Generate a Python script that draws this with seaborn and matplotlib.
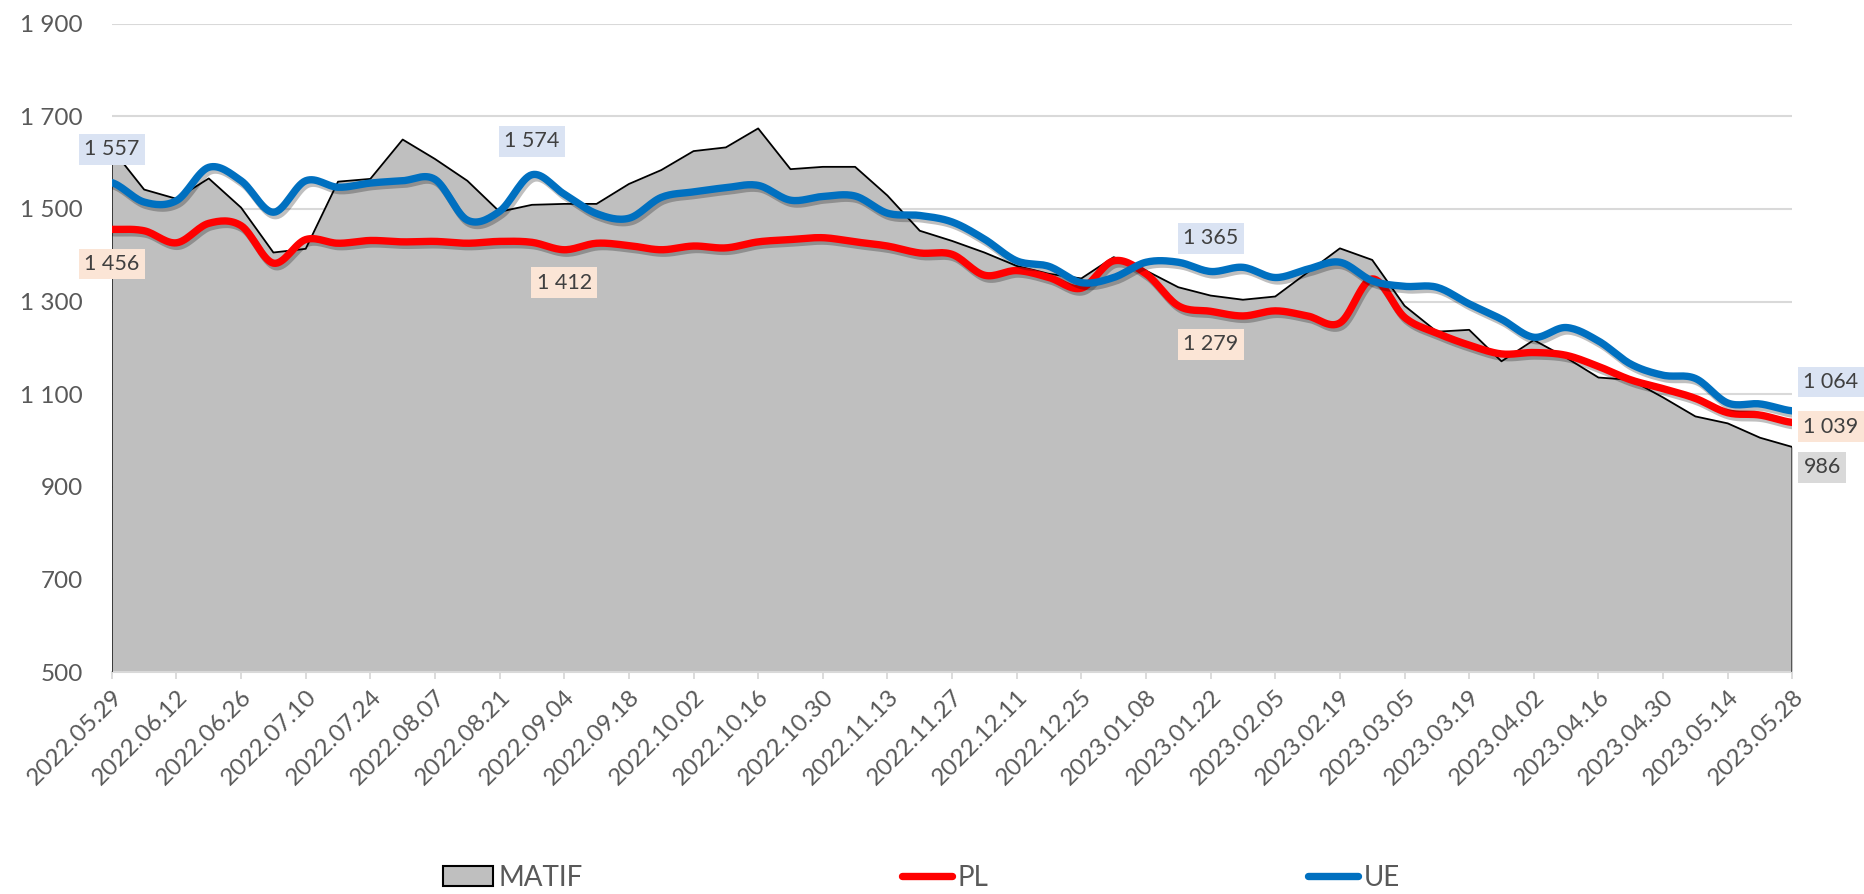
import numpy as np
import pandas as pd
import matplotlib
matplotlib.use("Agg")
import matplotlib.pyplot as plt
import matplotlib.patheffects as pe
from matplotlib.ticker import FuncFormatter
from matplotlib.patches import Patch
from matplotlib.lines import Line2D
import seaborn as sns

# weekly prices, 2022.05.29 - 2023.05.28
weeks = pd.date_range("2022-05-29", periods=53, freq="7D")
tick_labels = ["2022.05.29", "2022.06.12", "2022.06.26", "2022.07.10", "2022.07.24",
               "2022.08.07", "2022.08.21", "2022.09.04", "2022.09.18", "2022.10.02",
               "2022.10.16", "2022.10.30", "2022.11.13", "2022.11.27", "2022.12.11",
               "2022.12.25", "2023.01.08", "2023.01.22", "2023.02.05", "2023.02.19",
               "2023.03.05", "2023.03.19", "2023.04.02", "2023.04.16", "2023.04.30",
               "2023.05.14", "2023.05.28"]

matif = [1630, 1542, 1522, 1566, 1503, 1406, 1414, 1559, 1565, 1650,
         1608, 1561, 1494, 1509, 1511, 1511, 1554, 1584, 1625, 1633,
         1674, 1586, 1591, 1591, 1529, 1453, 1431, 1406, 1377, 1360,
         1350, 1396, 1367, 1331, 1313, 1304, 1311, 1363, 1415, 1390,
         1291, 1235, 1239, 1171, 1217, 1179, 1136, 1131, 1093, 1052,
         1037, 1006, 986]
pl = [1456, 1453, 1427, 1469, 1464, 1383, 1434, 1426, 1432, 1429,
      1430, 1426, 1430, 1428, 1412, 1426, 1421, 1412, 1420, 1416,
      1429, 1434, 1438, 1429, 1420, 1405, 1402, 1357, 1367, 1352,
      1329, 1388, 1360, 1291, 1279, 1269, 1280, 1269, 1254, 1349,
      1266, 1232, 1206, 1187, 1190, 1184, 1160, 1131, 1112, 1091,
      1060, 1055, 1039]
ue = [1557, 1515, 1518, 1590, 1561, 1493, 1561, 1547, 1556, 1561,
      1564, 1476, 1495, 1574, 1532, 1490, 1480, 1525, 1537, 1546,
      1551, 1519, 1527, 1528, 1491, 1486, 1472, 1435, 1388, 1376,
      1341, 1352, 1385, 1385, 1365, 1374, 1352, 1370, 1385, 1345,
      1333, 1331, 1295, 1262, 1223, 1244, 1215, 1165, 1141, 1134,
      1081, 1079, 1064]

RED = "#ff0000"
BLUE = "#0070c0"
TXT = "#595959"

sns.set_theme(style="white")
plt.rcParams["font.family"] = ["Lato", "DejaVu Sans"]


def smooth(y, n=16):
    # catmull-rom through the weekly points (excel "smoothed line")
    y = np.asarray(y, float)
    p = np.concatenate([[y[0]], y, [y[-1]]])
    t = np.linspace(0, 1, n, endpoint=False)
    xs, ys = [], []
    for i in range(len(y) - 1):
        p0, p1, p2, p3 = p[i], p[i + 1], p[i + 2], p[i + 3]
        ys.append(0.5 * (2 * p1 + (p2 - p0) * t
                         + (2 * p0 - 5 * p1 + 4 * p2 - p3) * t ** 2
                         + (-p0 + 3 * p1 - 3 * p2 + p3) * t ** 3))
        xs.append(i + t)
    xs.append([len(y) - 1])
    ys.append([y[-1]])
    return np.concatenate(xs), np.concatenate(ys)


fmt = lambda v: f"{int(v):,}".replace(",", " ")

fig = plt.figure(figsize=(18.65, 8.94), dpi=100)
ax = fig.add_axes([0.05995, 0.2483, 0.9011, 0.7251])

x = np.arange(len(weeks))
ax.fill_between(x, 500, matif, color="#bfbfbf", lw=0, zorder=2)
ax.plot(np.r_[0, x, x[-1]], np.r_[500, matif, 500], color="black", lw=1.3, zorder=3)

shadow = [pe.SimpleLineShadow(offset=(1.5, -2.5), shadow_color="black", alpha=0.25), pe.Normal()]
for data, col in ((pl, RED), (ue, BLUE)):
    sx, sy = smooth(data)
    sns.lineplot(x=sx, y=sy, ax=ax, color=col, lw=5.3, sort=False, zorder=4,
                 path_effects=shadow, solid_capstyle="round")

ax.set_xlim(0, 52)
ax.set_ylim(500, 1900)
ax.set_yticks(range(500, 2000, 200))
ax.yaxis.set_major_formatter(FuncFormatter(lambda v, _: fmt(v)))
ax.yaxis.grid(True, color="#d9d9d9", lw=1.5)
ax.set_axisbelow(True)
ax.set_xticks(range(0, 53, 2))
ax.set_xticklabels(tick_labels, rotation=45, ha="right", rotation_mode="anchor")
for s in ("top", "right", "left"):
    ax.spines[s].set_visible(False)
ax.spines["bottom"].set_color("#d9d9d9")
ax.spines["bottom"].set_linewidth(1.5)
ax.tick_params(axis="y", length=0, pad=21, labelsize=17.5, labelcolor=TXT)
ax.tick_params(axis="x", bottom=True, length=5, width=1.3, color="#d9d9d9",
               pad=5, labelsize=17.5, labelcolor=TXT)
ax.set_xlabel("")
ax.set_ylabel("")


def tag(i, val, dx, dy, bg, ha="center"):
    ax.annotate(fmt(val), xy=(i, val), xytext=(dx, dy), textcoords="offset points",
                ha=ha, va="center", fontsize=15.5, color="#404040", zorder=6,
                bbox=dict(boxstyle="square,pad=0.25", fc=bg, ec="none"),
                annotation_clip=False)


UE_BG, PL_BG, MA_BG = "#dae3f3", "#fbe5d6", "#d9d9d9"
tag(0, ue[0], 0, 24, UE_BG)
tag(0, pl[0], 0, -25, PL_BG)
tag(13, ue[13], 0, 24, UE_BG)
tag(14, pl[14], 0, -23.7, PL_BG)
tag(34, ue[34], 0, 24, UE_BG)
tag(34, pl[34], 0, -23.7, PL_BG)
tag(52, ue[52], 8, 20.8, UE_BG, ha="left")
tag(52, pl[52], 8, -3, PL_BG, ha="left")
tag(52, matif[52], 8, -14.6, MA_BG, ha="left")

handles = [Patch(facecolor="#bfbfbf", edgecolor="black", lw=1.5),
           Line2D([], [], color=RED, lw=5.3, solid_capstyle="round"),
           Line2D([], [], color=BLUE, lw=5.3, solid_capstyle="round")]
fig.legend(handles, ["MATIF", "PL", "UE"], loc="center", bbox_to_anchor=(0.494, 0.018),
           ncol=3, frameon=False, fontsize=20, handlelength=1.8, handletextpad=0.2,
           columnspacing=11.5, labelcolor=TXT)

fig.savefig("out.png", dpi=100)
